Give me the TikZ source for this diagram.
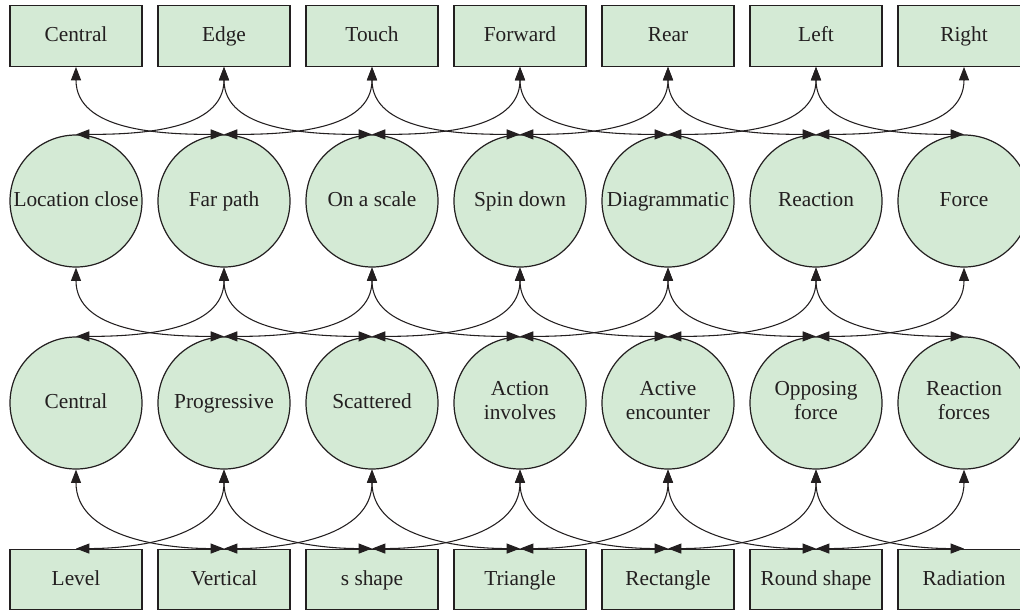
\documentclass[tikz,border=0pt]{standalone}
\usepackage{fontspec}
\setmainfont{Liberation Serif}
\usetikzlibrary{arrows.meta}
\definecolor{boxgreen}{RGB}{212,234,213}
\definecolor{inkgray}{RGB}{35,31,32}

\begin{document}
\begin{tikzpicture}[x=0.75pt,y=-0.75pt,
    every node/.style={font=\fontsize{16}{18}\selectfont, text=inkgray},
    rbox/.style={draw=inkgray, line width=0.9pt, fill=boxgreen, minimum width=99pt, minimum height=45.5pt, inner sep=0pt, text height=1.9ex, text depth=0.1ex},
    cnode/.style={circle, draw=inkgray, line width=0.9pt, fill=boxgreen, minimum size=99pt, inner sep=0pt, align=center, execute at begin node=\rule[-4.5pt]{0pt}{17.5pt}},
    link/.style={{Triangle[length=10pt,width=7.5pt]}-{Triangle[length=10pt,width=7.5pt]}, line width=0.8pt, draw=inkgray}]
    \useasboundingbox (0,0) rectangle (1020,610);

    \node[rbox] (top1) at (76,36) {Central};
    \node[rbox] (top2) at (224,36) {Edge};
    \node[rbox] (top3) at (372,36) {Touch};
    \node[rbox] (top4) at (520,36) {Forward};
    \node[rbox] (top5) at (668,36) {Rear};
    \node[rbox] (top6) at (816,36) {Left};
    \node[rbox] (top7) at (964,36) {Right};

    \node[cnode] (up1) at (76,201) {Location close};
    \node[cnode] (up2) at (224,201) {Far path};
    \node[cnode] (up3) at (372,201) {On a scale};
    \node[cnode] (up4) at (520,201) {Spin down};
    \node[cnode] (up5) at (668,201) {Diagrammatic};
    \node[cnode] (up6) at (816,201) {Reaction};
    \node[cnode] (up7) at (964,201) {Force};

    \node[cnode] (low1) at (76,403) {Central};
    \node[cnode] (low2) at (224,403) {Progressive};
    \node[cnode] (low3) at (372,403) {Scattered};
    \node[cnode] (low4) at (520,403) {Action\\involves};
    \node[cnode] (low5) at (668,403) {Active\\encounter};
    \node[cnode] (low6) at (816,403) {Opposing\\force};
    \node[cnode] (low7) at (964,403) {Reaction\\forces};

    \node[rbox] (bot1) at (76,579.5) {Level};
    \node[rbox] (bot2) at (224,579.5) {Vertical};
    \node[rbox] (bot3) at (372,579.5) {s shape};
    \node[rbox] (bot4) at (520,579.5) {Triangle};
    \node[rbox] (bot5) at (668,579.5) {Rectangle};
    \node[rbox] (bot6) at (816,579.5) {Round shape};
    \node[rbox] (bot7) at (964,579.5) {Radiation};

    \foreach \u/\l in {top/up, up/low, low/bot}
      \foreach \i in {1,...,6} {
        \pgfmathtruncatemacro\j{\i+1}
        \draw[link] (\u\i.south) to[out=-90, in=180] (\l\j.north);
        \draw[link] (\u\j.south) to[out=-90, in=0] (\l\i.north);
      }
\end{tikzpicture}
\end{document}
